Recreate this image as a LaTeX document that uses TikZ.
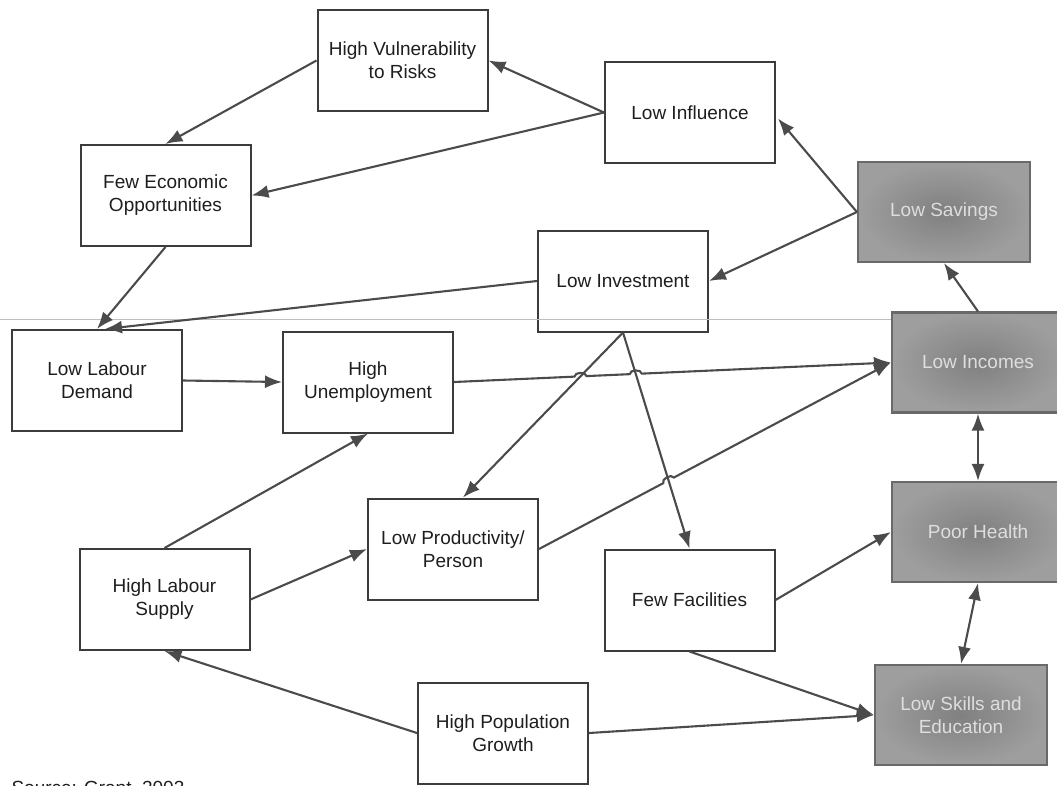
\documentclass[tikz,border=0pt]{standalone}
\usepackage{fontspec}
\setmainfont{Liberation Sans}
\usetikzlibrary{
  arrows.meta,
  calc,
  intersections
}
\definecolor{boxline}{RGB}{60, 60, 60}
\definecolor{arrowcolor}{RGB}{75, 75, 75}
\definecolor{labelcolor}{RGB}{30, 30, 30}
\definecolor{outcomeline}{RGB}{105, 105, 105}
\definecolor{outcomedark}{RGB}{128, 128, 128}
\definecolor{outcomelight}{RGB}{158, 158, 158}
\definecolor{outcometext}{RGB}{222, 222, 222}
\definecolor{foldcolor}{RGB}{190, 190, 190}
\tikzset{
boxtext/.style={
  align=center,
  font=\fontsize{19}{23}\selectfont,
  text=labelcolor
},
causebox/.style={
  draw=boxline,
  line width=2pt,
  fill=white,
  minimum height=101pt,
  minimum width=170pt,
  boxtext
},
outcomebox/.style={
  draw=outcomeline,
  line width=2.2pt,
  inner color=outcomedark,
  outer color=outcomelight,
  minimum height=100pt,
  minimum width=172pt,
  boxtext,
  text=outcometext
},
arrow/.style={
  -{Latex[length=17pt,width=13pt]},
  line width=2.1pt,
  draw=arrowcolor
},
twoway/.style={
  arrow,
  {Latex[length=17pt,width=13pt]}-{Latex[length=17pt,width=13pt]}
},
foldline/.style={
  draw=foldcolor,
  line width=0.8pt
}
}

\begin{document}
\begin{tikzpicture}[x=1pt, y=1pt]
  \useasboundingbox (0,0) rectangle (1057,-785);

  % --- causes ---
  \node[causebox] (hv)   at (402.5,-60.5) {High Vulnerability\\to Risks};
  \node[causebox] (li)   at (690,-112.5)  {Low Influence};
  \node[causebox] (feo)  at (165.5,-195.5) {Few Economic\\Opportunities};
  \node[causebox] (linv) at (623,-281)    {Low Investment};
  \node[causebox] (lld)  at (97,-380.5)   {Low Labour\\Demand};
  \node[causebox] (hu)   at (368,-382)    {High\\Unemployment};
  \node[causebox] (lpp)  at (453,-549)    {Low Productivity/\\Person};
  \node[causebox] (hls)  at (164.5,-599.5) {High Labour\\Supply};
  \node[causebox] (ff)   at (689.5,-600)  {Few Facilities};
  \node[causebox] (hpg)  at (503,-733)    {High Population\\Growth};

  % --- outcomes (shaded) ---
  \node[outcomebox] (ls)  at (944,-212)   {Low Savings};
  \node[outcomebox] (lin) at (978,-362.5) {Low Incomes};
  \node[outcomebox] (ph)  at (978,-532)   {Poor Health};
  \node[outcomebox] (lse) at (961,-715)   {Low Skills and\\Education};

  % faint crease across the page
  \draw[foldline] (0,-319) -- (lin.west |- 0,-319);

  % --- top loop ---
  \draw[arrow] (li.west) -- (hv.east);
  \draw[arrow] (li.west) -- (feo.east);
  \draw[arrow] (hv.west) -- (feo.north);
  \draw[arrow] (feo.south) -- (lld.north);
  \draw[arrow] (linv.west) -- ($(lld.north)+(8,0)$);
  \draw[arrow] (ls.west) -- ($(li.east)+(2,-6)$);
  \draw[arrow] (ls.west) -- (linv.east);
  \draw[arrow] (lin.north) -- (ls.south);

  % --- middle ---
  \draw[arrow] (lld.east) -- (hu.west);
  \draw[arrow] (linv.south) -- ($(lpp.north)+(10,0)$);
  \draw[arrow] (linv.south) -- (ff.north);
  \draw[arrow] (hls.north) -- (hu.south);
  \draw[arrow] (hls.east) -- (lpp.west);

  % line jumps where the income arrows cross
  \path[name path=toprod] (linv.south) -- ($(lpp.north)+(10,0)$);
  \path[name path=tofac]  (linv.south) -- (ff.north);
  \path[name path=unemp]  (hu.east) -- (lin.west);
  \path[name path=prodin] (lpp.east) -- (lin.west);
  \path[name intersections={of=unemp and toprod, by=j1}];
  \path[name intersections={of=unemp and tofac, by=j2}];
  \path[name intersections={of=prodin and tofac, by=j3}];
  \draw[arrow] (hu.east) -- ($(j1)!6pt!(hu.east)$)
    to[bend left=90] ($(j1)!6pt!(lin.west)$) -- ($(j2)!6pt!(hu.east)$)
    to[bend left=90] ($(j2)!6pt!(lin.west)$) -- (lin.west);
  \draw[arrow] (lpp.east) -- ($(j3)!6pt!(lpp.east)$)
    to[bend left=90] ($(j3)!6pt!(lin.west)$) -- (lin.west);

  % --- bottom ---
  \draw[arrow] (ff.east) -- (ph.west);
  \draw[twoway] (lin.south) -- (ph.north);
  \draw[twoway] (ph.south) -- (lse.north);
  \draw[arrow] (ff.south) -- (lse.west);
  \draw[arrow] (hpg.east) -- (lse.west);
  \draw[arrow] (hpg.west) -- (hls.south);

  \node[anchor=base west, boxtext] (src) at (8,-794) {Source: Grant, 2003};
\end{tikzpicture}
\end{document}
